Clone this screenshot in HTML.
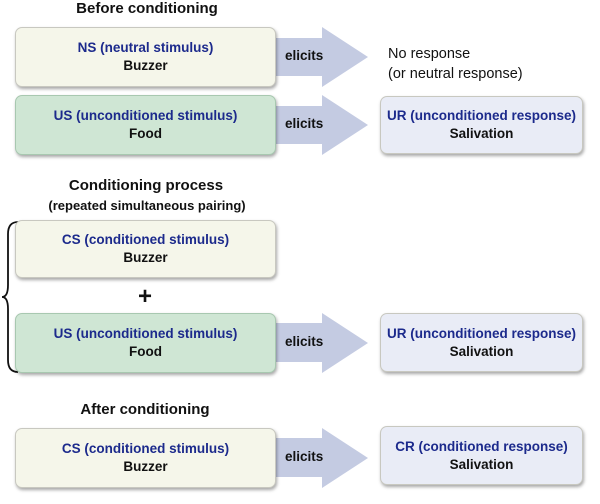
<!DOCTYPE html>
<html><head><meta charset="utf-8"><style>
body{margin:0;width:600px;height:504px;background:#fff;position:relative;overflow:hidden;font-family:"Liberation Sans",sans-serif;}
.t{position:absolute;font-weight:bold;font-size:14px;color:#111;text-align:center}
.b{position:absolute;border-radius:7px;box-shadow:1px 2px 3px rgba(0,0,0,.35);display:flex;flex-direction:column;justify-content:center;align-items:center;font-size:13.5px;font-weight:bold;line-height:18px;color:#111;border:1px solid #c8c8c0;box-sizing:border-box}
.b .h{color:#1c2a8c}
.y{background:#f5f6ea;left:15px;width:261px}
.g{background:#cfe6d4;left:15px;width:261px;border-color:#a8c8b0}
.r{background:#e9ecf6;left:380px;width:203px}
svg{position:absolute;left:0;top:0}
.e{position:absolute;font-size:13.5px;font-weight:bold;color:#111}
</style></head><body>
<svg width="600" height="504">
<g fill="#c4cbe2">
<polygon points="276,38 322,38 322,27 368,57 322,87 322,76 276,76"/>
<polygon points="276,106 322,106 322,95 368,125 322,155 322,144 276,144"/>
<polygon points="276,323 322,323 322,313 368,343 322,373 322,362 276,362"/>
<polygon points="276,438 322,438 322,428 368,458 322,488 322,477 276,477"/>
</g>
<path d="M18,222 Q8,222 8,234 L8,285 Q8,297 2,297 Q8,297 8,309 L8,360 Q8,372 18,372" fill="none" stroke="#111" stroke-width="1.8"/>
</svg>
<div class="t" style="left:0;width:294px;top:0px;font-size:15px">Before conditioning</div>
<div class="b y" style="top:27px;height:60px"><span class="h">NS (neutral stimulus)</span><span>Buzzer</span></div>
<div class="e" style="left:285px;top:48px">elicits</div>
<div style="position:absolute;left:388px;top:44px;font-size:14.5px;line-height:20px;color:#111">No response<br>(or neutral response)</div>
<div class="b g" style="top:95px;height:60px"><span class="h">US (unconditioned stimulus)</span><span>Food</span></div>
<div class="e" style="left:285px;top:116px">elicits</div>
<div class="b r" style="top:96px;height:58px"><span class="h">UR (unconditioned response)</span><span>Salivation</span></div>

<div class="t" style="left:0;width:292px;top:177px;font-size:15px">Conditioning process</div>
<div class="t" style="left:0;width:294px;top:198px;font-size:13px">(repeated simultaneous pairing)</div>
<div class="b y" style="top:220px;height:58px"><span class="h">CS (conditioned stimulus)</span><span>Buzzer</span></div>
<div class="t" style="left:130px;width:30px;top:283px;font-size:24px">+</div>
<div class="b g" style="top:313px;height:60px"><span class="h">US (unconditioned stimulus)</span><span>Food</span></div>
<div class="e" style="left:285px;top:334px">elicits</div>
<div class="b r" style="top:313px;height:59px"><span class="h">UR (unconditioned response)</span><span>Salivation</span></div>

<div class="t" style="left:0;width:290px;top:401px;font-size:15px">After conditioning</div>
<div class="b y" style="top:428px;height:60px"><span class="h">CS (conditioned stimulus)</span><span>Buzzer</span></div>
<div class="e" style="left:285px;top:449px">elicits</div>
<div class="b r" style="top:426px;height:59px"><span class="h">CR (conditioned response)</span><span>Salivation</span></div>
</body></html>
